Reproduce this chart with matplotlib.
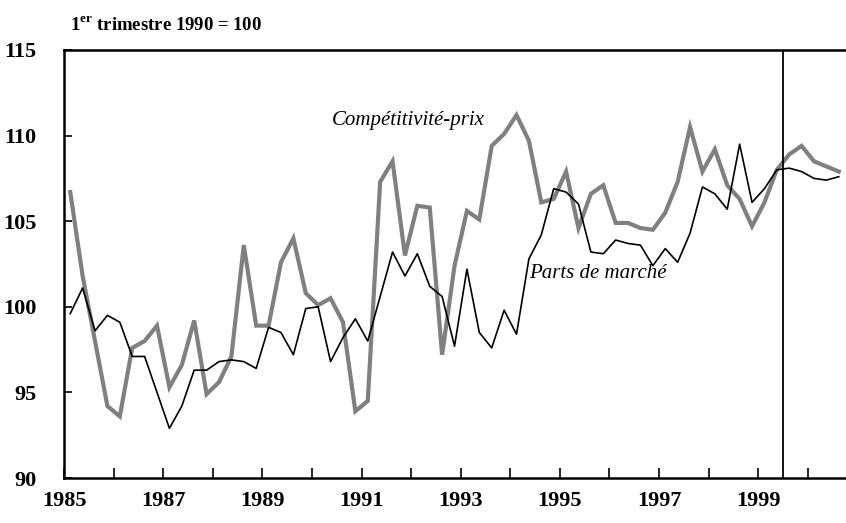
import matplotlib
matplotlib.use("Agg")
import matplotlib.pyplot as plt
import numpy as np

# quarterly index, 1st quarter 1990 = 100 (1985Q1 .. 2000Q3)
competitivite_prix = [
    106.7, 101.8, 98.0, 94.2, 93.6, 97.6, 98.0, 98.9,
    95.3, 96.6, 99.2, 94.9, 95.6, 97.1, 103.6, 98.9,
    98.9, 102.6, 104.0, 100.8, 100.1, 100.5, 99.1, 93.9,
    94.5, 107.3, 108.5, 103.0, 105.9, 105.8, 97.2, 102.4,
    105.6, 105.1, 109.4, 110.1, 111.2, 109.7, 106.1, 106.3,
    107.9, 104.6, 106.6, 107.1, 104.9, 104.9, 104.6, 104.5,
    105.5, 107.3, 110.5, 107.9, 109.2, 107.1, 106.3, 104.7,
    106.1, 108.0, 108.9, 109.4, 108.5, 108.2, 107.9,
]
parts_de_marche = [
    99.6, 101.1, 98.6, 99.5, 99.1, 97.1, 97.1, 95.0,
    92.9, 94.2, 96.3, 96.3, 96.8, 96.9, 96.8, 96.4,
    98.8, 98.5, 97.2, 99.9, 100.0, 96.8, 98.2, 99.3,
    98.0, 100.6, 103.2, 101.8, 103.1, 101.2, 100.6, 97.7,
    102.2, 98.5, 97.6, 99.8, 98.4, 102.8, 104.2, 106.9,
    106.7, 106.0, 103.2, 103.1, 103.9, 103.7, 103.6, 102.4,
    103.4, 102.6, 104.3, 107.0, 106.6, 105.7, 109.5, 106.1,
    106.9, 108.0, 108.1, 107.9, 107.5, 107.4, 107.6,
]
year_labels = ["1985", "1987", "1989", "1991", "1993", "1995", "1997", "1999"]
y_ticks = [90, 95, 100, 105, 110, 115]
split_year = 1999.5

serif = "Liberation Serif"
plt.rcParams["font.family"] = serif
plt.rcParams["mathtext.fontset"] = "custom"
plt.rcParams["mathtext.rm"] = serif + ":bold"
plt.rcParams["mathtext.bf"] = serif + ":bold"

fig = plt.figure(figsize=(8.46, 5.23), dpi=100)
ax = fig.add_axes([0.0757, 0.086, 0.9243, 0.8184])

x = 1985 + (np.arange(len(competitivite_prix)) + 0.5) / 4
ax.plot(x, competitivite_prix, color="#808080", lw=3.0, solid_joinstyle="miter")
ax.plot(x, parts_de_marche, color="black", lw=1.2)
ax.axvline(split_year, color="black", lw=1.3)

ax.set_xlim(1985, 2000.77)
ax.set_ylim(90, 115)

ax.set_xticks(np.arange(1985, 2001))
ax.set_xticklabels([str(y) if str(y) in year_labels else "" for y in range(1985, 2001)])
ax.set_yticks(y_ticks)
ax.tick_params(axis="x", direction="in", length=7, width=1.2, pad=9,
               labelsize=16)
ax.tick_params(axis="y", direction="in", length=6, width=1.2, pad=20,
               labelsize=16)
for lab in ax.get_xticklabels() + ax.get_yticklabels():
    lab.set_fontweight("bold")

for s in ["left", "top", "bottom"]:
    ax.spines[s].set_linewidth(1.8)
ax.spines["right"].set_visible(False)

ax.text(1991.95, 110.9, "Compétitivité-prix", style="italic", fontsize=15,
        ha="center", va="center")
ax.text(1995.77, 101.95, "Parts de marché", style="italic", fontsize=15,
        ha="center", va="center")

fig.text(0.083, 0.952, r"1$^{\mathrm{er}}$ trimestre 1990 = 100",
         fontsize=13.5, fontweight="bold", ha="left", va="center")

fig.savefig("out.png", dpi=100)
